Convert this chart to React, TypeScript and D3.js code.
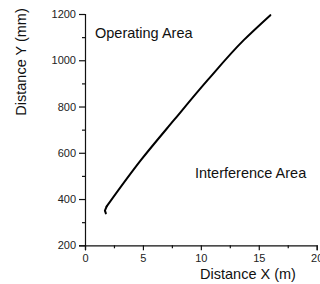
import React, { useEffect, useRef } from "react";
import * as d3 from "d3";

// curve, distance X (m) vs distance Y (mm)
const curveX = [1.8, 1.72, 1.87, 4.84, 7.69, 10.6, 13.7, 16.0];
const curveY = [338, 350, 368, 569, 742, 915, 1087, 1195];

const xTicks = [0, 5, 10, 15, 20];
const xMinor = [2.5, 7.5, 12.5, 17.5];
const yTicks = [200, 400, 600, 800, 1000, 1200];
const yMinor = [300, 500, 700, 900, 1100];

const xTitle = "Distance X (m)";
const yTitle = "Distance Y (mm)";
const upperLabel = "Operating Area";
const lowerLabel = "Interference Area";

const App = () => {
  const ref = useRef<SVGSVGElement>(null);

  useEffect(() => {
    const width = 320;
    const height = 284;
    const svg = d3.select(ref.current);
    svg.selectAll("*").remove();

    const font = "Liberation Sans, Arial, sans-serif";
    const x = d3.scaleLinear().domain([0, 20]).range([85, 316.7]);
    const y = d3.scaleLinear().domain([200, 1200]).range([245.3, 14]);

    const data = curveX.map((v, i) => [v, curveY[i]] as [number, number]);

    // === Y AXIS ===
    svg
      .append("g")
      .attr("transform", `translate(${x(0)},0)`)
      .call(d3.axisLeft(y).tickValues(yTicks).tickSize(6).tickPadding(3).tickFormat(d3.format("d")))
      .call(g => g.selectAll("path,line").attr("stroke", "#111").attr("stroke-width", 1.2))
      .call(g => g.selectAll("text").attr("fill", "#222").attr("font-size", 11).attr("font-family", font));
    svg
      .append("g")
      .attr("transform", `translate(${x(0)},0)`)
      .call(d3.axisLeft(y).tickValues(yMinor).tickSize(3).tickFormat(() => ""))
      .call(g => g.select(".domain").remove())
      .call(g => g.selectAll("line").attr("stroke", "#111").attr("stroke-width", 1.2));

    // === X AXIS ===
    svg
      .append("g")
      .attr("transform", `translate(0,${y(200)})`)
      .call(d3.axisBottom(x).tickValues(xTicks).tickSize(5).tickPadding(4))
      .call(g => g.selectAll("path,line").attr("stroke", "#111").attr("stroke-width", 1.2))
      .call(g => g.selectAll("text").attr("fill", "#222").attr("font-size", 11).attr("font-family", font));
    svg
      .append("g")
      .attr("transform", `translate(0,${y(200)})`)
      .call(d3.axisBottom(x).tickValues(xMinor).tickSize(3).tickFormat(() => ""))
      .call(g => g.select(".domain").remove())
      .call(g => g.selectAll("line").attr("stroke", "#111").attr("stroke-width", 1.2));

    // === CURVE === (little hook at the start drawn straight, rest smoothed)
    const line = d3
      .line<[number, number]>()
      .x(d => x(d[0]))
      .y(d => y(d[1]));
    const drawPart = (pts: [number, number][], curve: d3.CurveFactory) =>
      svg
        .append("path")
        .datum(pts)
        .attr("d", line.curve(curve))
        .attr("fill", "none")
        .attr("stroke", "#000")
        .attr("stroke-width", 2)
        .attr("stroke-linejoin", "round")
        .attr("stroke-linecap", "round");
    drawPart(data.slice(0, 3), d3.curveLinear);
    drawPart(data.slice(2), d3.curveMonotoneY);

    // === LABELS ===
    const text = (tx: number, ty: number, s: string, anchor = "start") =>
      svg
        .append("text")
        .attr("x", tx)
        .attr("y", ty)
        .attr("text-anchor", anchor)
        .attr("font-size", 14.5)
        .attr("font-family", font)
        .attr("fill", "#111")
        .text(s);

    text(95, 37.5, upperLabel);
    text(195, 178, lowerLabel);
    text(248, 279, xTitle, "middle");
    text(0, 0, yTitle, "middle").attr("transform", `translate(26,62) rotate(-90)`);

    svg.attr("width", width).attr("height", height);
  }, []);

  return (
    <svg
      ref={ref}
      width={320}
      height={284}
      style={{ position: "absolute", left: 0, top: 0, display: "block", background: "#fff" }}
    />
  );
};

export default App;
